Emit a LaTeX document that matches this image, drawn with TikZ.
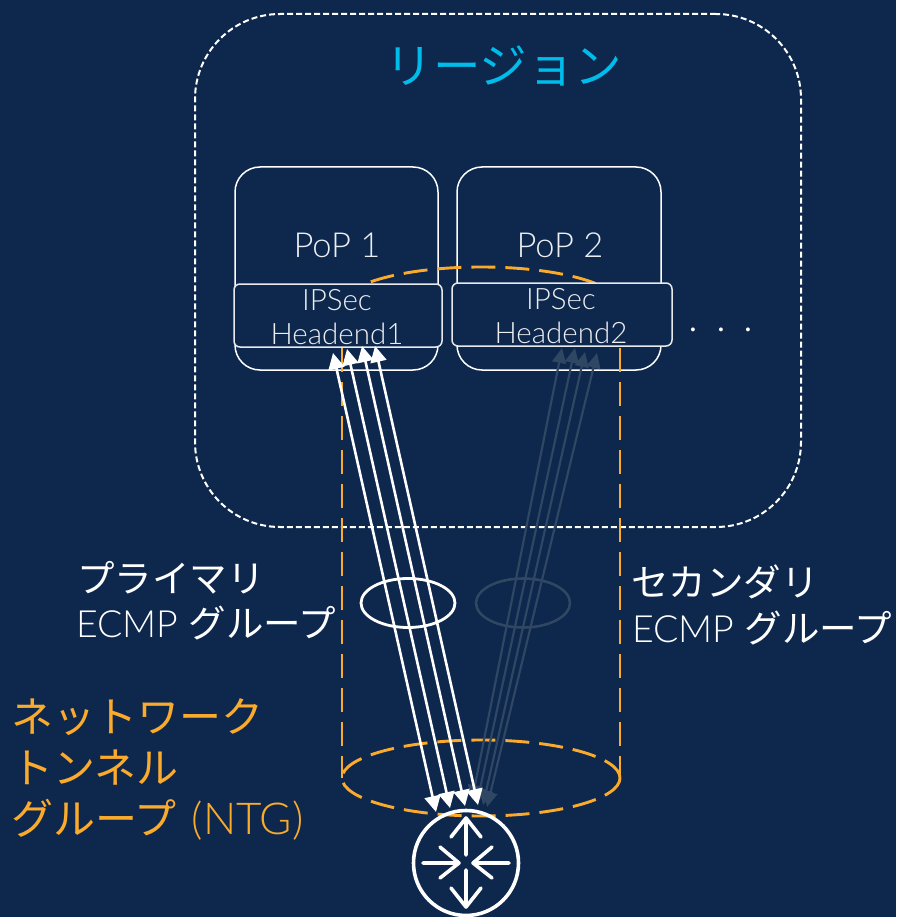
\documentclass[tikz,border=0pt]{standalone}
\usepackage{fontspec}
\setmainfont{Lato}[UprightFont=* Light]
\newfontfamily\cjk{Noto Sans CJK JP}
\usetikzlibrary{arrows.meta,shapes.geometric}
\definecolor{bg}{HTML}{0D274D}
\definecolor{org}{HTML}{FBAB2C}
\definecolor{cy}{HTML}{00BCEB}
\definecolor{dim}{HTML}{2F4763}
\tikzset{
  popbox/.style={draw=white,line width=1.5pt,rounded corners=25pt,minimum width=203pt,minimum height=203pt,inner sep=0pt},
  headbox/.style={draw=white!90!bg,fill=bg,line width=1.5pt,rounded corners=6pt,inner sep=0pt},
  lab/.style={text=white!92!bg,font=\fontsize{34.5}{40}\selectfont,inner sep=0pt},
  hlab/.style={text=white!92!bg,font=\fontsize{29.5}{34}\selectfont,inner sep=0pt},
  jp/.style={text=white,font=\fontsize{37.5}{44}\selectfont,inner sep=0pt,anchor=west},
  orgt/.style={text=org,font=\fontsize{42}{48}\selectfont,inner sep=0pt,anchor=west},
  cyl/.style={draw=org,line width=2.9pt,dash pattern=on 24pt off 10pt},
  beam/.style={draw=white,line width=2.6pt,{Triangle[length=16pt,width=16pt]}-{Triangle[length=16pt,width=16pt]}},
  dimbeam/.style={draw=dim,line width=2.2pt,{Triangle[length=15pt,width=14pt]}-{Triangle[length=15pt,width=14pt]}},
  rtr/.style={draw=white,line width=3.6pt,line cap=round,line join=round}
}
\begin{document}
\begin{tikzpicture}[x=1pt,y=-1pt]
\useasboundingbox[fill=bg] (0,0) rectangle (896,917);
% region
\node[draw=white,line width=2pt,dash pattern=on 6pt off 3pt,rounded corners=85pt,minimum width=606pt,minimum height=513pt,inner sep=0pt] (region) at (498,270.5) {};
\node[text=cy,font=\cjk\fontsize{47.5}{52}\selectfont,inner sep=0pt] (regionlab) at (504,66) {リージョン};
% PoP boxes
\node[popbox] (pop1) at (336.5,268.5) {};
\node[popbox,minimum width=204pt] (pop2) at (559,268.5) {};
\node[lab] (pop1lab) at (337,245) {PoP 1};
\node[lab] (pop2lab) at (560,245) {PoP 2};
% NTG cylinder
\coordinate (ct) at (481,305);
\coordinate (cb) at (481,778);
\coordinate (tl) at (342,348);
\coordinate (tr) at (620,348);
\coordinate (bl) at (342,778);
\coordinate (br) at (620,778);
\draw[cyl] (cb) ellipse [x radius=139,y radius=38];
\begin{scope}
\clip (300,250) rectangle (660,284);
\draw[cyl] (ct) ellipse [x radius=139,y radius=38];
\end{scope}
\draw[cyl] (tl) -- (bl);
\draw[cyl] (tr) -- (br);
% headends
\node[headbox,minimum width=208pt,minimum height=63pt] (he1) at (338,315.5) {};
\node[headbox,minimum width=220pt,minimum height=63pt] (he2) at (562,314.5) {};
\node[hlab] (he1a) at (337,300) {IPSec};
\node[hlab] (he1b) at (337,334) {Headend1};
\node[hlab] (he2a) at (561,299) {IPSec};
\node[hlab] (he2b) at (561,333) {Headend2};
\node[text=white,font=\fontsize{42}{44}\selectfont,inner sep=0pt] (dots) at (721,330) {.\kern18pt.\kern18pt.};
% ECMP rings
\node[draw=dim,line width=2.6pt,ellipse,minimum width=94pt,minimum height=49pt,inner sep=0pt] (ring2) at (523,603) {};
% dim tunnels
\foreach \n/\ax/\ay/\bx/\by in {a/472/800/562/348,b/477/803/575/348,c/483/805/585/352,d/487/807/597/353}{
  \coordinate (ds\n) at (\ax,\ay); \coordinate (de\n) at (\bx,\by);
  \draw[dimbeam] (ds\n) -- (de\n);
}
% primary tunnels
\foreach \n/\ax/\ay/\bx/\by in {a/436/812/333/353,b/450/808/347/349,c/465/806/362/346,d/478/805/375/346}{
  \coordinate (ps\n) at (\ax,\ay); \coordinate (pe\n) at (\bx,\by);
  \draw[beam] (ps\n) -- (pe\n);
}
\node[draw=white,line width=2.8pt,ellipse,minimum width=94pt,minimum height=49pt,inner sep=0pt] (ring1) at (408,603) {};
% labels
\node[jp] (p1) at (77,578) {\cjk プライマリ};
\node[jp] (p2) at (76,623) {ECMP {\cjk グループ}};
\node[jp] (s1) at (631,582) {\cjk セカンダリ};
\node[jp] (s2) at (632,628) {ECMP {\cjk グループ}};
\node[orgt] (n1) at (11,717) {\cjk ネットワーク};
\node[orgt] (n2) at (11,768) {\cjk トンネル};
\node[orgt] (n3) at (11,820) {{\cjk グループ}\kern15pt{\fontsize{44}{48}\selectfont(NTG)}};
% router
\node[draw=white,line width=3.6pt,circle,minimum size=105pt,inner sep=0pt] (router) at (466,863) {};
\draw[rtr] (466,855) -- (466,818) (451,837) -- (466,818) -- (481,837);
\draw[rtr] (466,870) -- (466,907) (451,888) -- (466,907) -- (481,888);
\draw[rtr] (423,863) -- (459,863) (440,847) -- (459,863) -- (440,878);
\draw[rtr] (509,863) -- (473,863) (492,847) -- (473,863) -- (492,878);
\end{tikzpicture}
\end{document}
